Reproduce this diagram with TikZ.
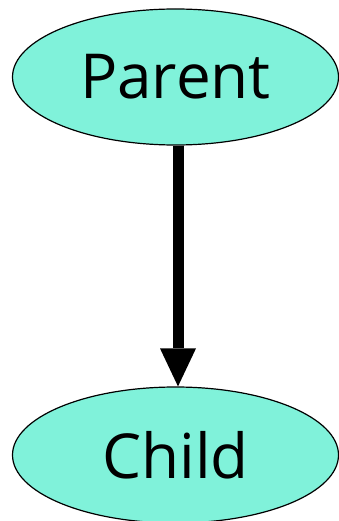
\documentclass[tikz,border=0pt]{standalone}
\usepackage{fontspec}
\setmainfont{Open Sans}
\usetikzlibrary{shapes.geometric,arrows.meta}
\definecolor{nodefill}{RGB}{128,242,218}
\tikzset{
  blob/.style={ellipse,draw=black,line width=1.2pt,fill=nodefill,
    minimum width=326pt,minimum height=136pt,inner sep=0pt,
    font=\fontsize{62}{70}\selectfont},
  link/.style={line width=11pt,-{Triangle[length=38pt,width=36pt,line width=0pt]}}
}
\begin{document}
\begin{tikzpicture}[x=1pt,y=-1pt]
\useasboundingbox (0,0) rectangle (338,521);
\node[blob] (parent) at (175.5,77) {Parent};
\node[blob] (child) at (175.5,455) {Child};
\draw[link] ([xshift=2.5pt]parent.south) -- ([xshift=2.5pt]child.north);
\end{tikzpicture}
\end{document}
